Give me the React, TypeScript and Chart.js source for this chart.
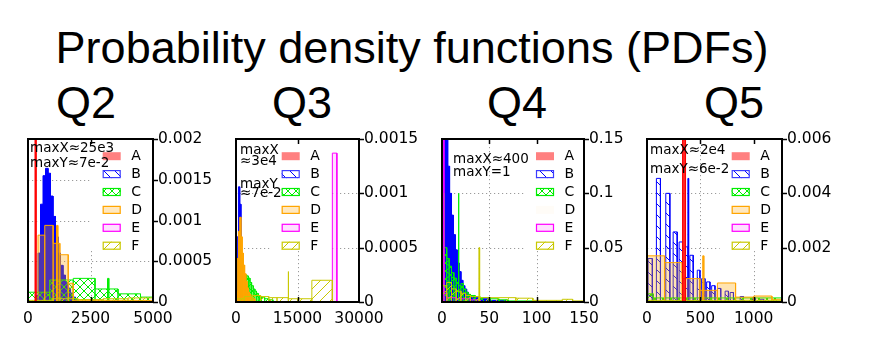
import React, { useEffect, useRef } from "react";
import { Chart, registerables } from "chart.js";

Chart.register(...registerables);

type Bar = [number, number, number]; // [bin start, bin end, density]

const seriesNames = ["A", "B", "C", "D", "E", "F"];

// ---------------- Q2 ----------------
const q2XTicks = [0, 2500, 5000];
const q2YTicks = [0, 0.0005, 0.001, 0.0015, 0.002];
const q2A: Bar[] = [[280, 320, 0.07]];
const q2B: Bar[] = [
  [300, 400, 0.00008], [400, 500, 0.0006], [500, 600, 0.0012], [600, 700, 0.00155],
  [700, 800, 0.00164], [800, 900, 0.00158], [900, 1000, 0.0013], [1000, 1100, 0.00105],
  [1100, 1200, 0.0008], [1200, 1300, 0.0006], [1300, 1400, 0.00045], [1400, 1500, 0.00033],
  [1500, 1600, 0.00024], [1600, 1700, 0.00017], [1700, 1800, 0.00011], [1800, 1900, 0.00006],
  [1900, 2000, 0.00003],
];
const q2C: Bar[] = [
  [0, 870, 0.00012], [870, 1810, 0.00027], [1810, 2680, 0.00029], [2680, 3180, 0.00016],
  [3180, 3230, 0.00029], [3230, 3600, 0.00016], [3600, 4500, 0.0001], [4500, 5000, 0.00006],
];
const q2D: Bar[] = [
  [400, 670, 0.00082], [670, 1005, 0.00094], [1005, 1140, 0.00072], [1140, 1190, 0.00094],
  [1190, 1273, 0.00072], [1273, 1610, 0.00058], [1610, 1810, 0.00023], [1810, 5000, 0.00002],
];
const q2E: Bar[] = [];
const q2F: Bar[] = [
  [0, 1000, 0.00002], [1000, 2000, 0.00004], [2000, 3000, 0.00003], [3000, 4000, 0.00004],
  [4000, 5000, 0.00005],
];

// ---------------- Q3 ----------------
const q3XTicks = [0, 15000, 30000];
const q3YTicks = [0, 0.0005, 0.001, 0.0015];
const q3A: Bar[] = [[0, 180, 0.07]];
const q3B: Bar[] = [
  [300, 600, 0.0006], [600, 900, 0.00106], [900, 1200, 0.0009], [1200, 1500, 0.0004],
  [1500, 1800, 0.00012],
];
const q3C: Bar[] = [
  [1400, 1800, 0.00012], [1800, 2200, 0.0002], [2200, 2600, 0.00025], [2600, 3000, 0.00024],
  [3000, 3400, 0.00022], [3400, 3800, 0.00018], [3800, 4200, 0.00015], [4200, 4600, 0.00012],
  [4600, 5000, 0.0001], [5000, 5400, 0.00008], [5400, 5800, 0.00006], [5800, 6200, 0.00005],
  [6200, 7000, 0.00004], [7000, 8000, 0.00003], [8000, 9000, 0.00002],
];
const q3D: Bar[] = [
  [0, 300, 0.0001], [300, 600, 0.0004], [600, 900, 0.00065], [900, 1200, 0.00078],
  [1200, 1500, 0.0006], [1500, 1800, 0.00045], [1800, 2100, 0.00034], [2100, 2400, 0.00026],
  [2400, 2700, 0.00019], [2700, 3000, 0.00013], [3000, 3300, 0.00009], [3300, 3600, 0.00007],
  [3600, 4000, 0.00005], [4000, 4600, 0.00003],
];
const q3E: Bar[] = [[23500, 24600, 0.00137]];
const q3F: Bar[] = [
  [0, 2000, 0.00003], [2000, 4000, 0.00005], [4000, 6000, 0.00006], [6000, 8000, 0.00005],
  [8000, 10000, 0.00004], [10000, 12700, 0.00004], [12700, 12850, 0.00028], [12850, 15000, 0.00003],
  [15000, 18500, 0.00003], [18500, 23500, 0.0002],
];

// ---------------- Q4 ----------------
const q4XTicks = [0, 50, 100, 150];
const q4YTicks = [0, 0.05, 0.1, 0.15];
const q4A: Bar[] = [];
const q4B: Bar[] = [
  [0, 2, 0.2], [2, 4, 0.2], [4, 6, 0.15], [6, 8, 0.125], [8, 10, 0.1], [10, 12, 0.08],
  [12, 14, 0.062], [14, 16, 0.048], [16, 18, 0.036], [18, 20, 0.028], [20, 22, 0.02],
  [22, 24, 0.015], [24, 26, 0.012], [26, 28, 0.009], [28, 30, 0.007], [30, 34, 0.005],
  [34, 40, 0.004], [40, 50, 0.003], [50, 70, 0.0015],
];
const q4C: Bar[] = [
  [0, 2.5, 0.1], [2.5, 5, 0.05], [5, 7.5, 0.04], [7.5, 10, 0.033], [10, 12.5, 0.027],
  [12.5, 15, 0.022], [15, 17.3, 0.018], [17.3, 17.9, 0.1], [17.9, 20, 0.015], [20, 22.5, 0.017],
  [22.5, 25, 0.012], [25, 27.5, 0.009], [27.5, 30, 0.007], [30, 35, 0.006], [35, 40, 0.005],
  [40, 50, 0.004], [50, 60, 0.003], [60, 70, 0.002], [70, 100, 0.001],
];
const q4D: Bar[] = [];
const q4E: Bar[] = [[0, 2, 1], [2, 5, 0.008], [5, 15, 0.004], [15, 30, 0.003], [30, 40, 0.002]];
const q4F: Bar[] = [
  [0, 5, 0.015], [5, 10, 0.018], [10, 15, 0.012], [15, 20, 0.01], [20, 25, 0.008],
  [25, 30, 0.006], [30, 39, 0.005], [39, 39.7, 0.05], [39.7, 50, 0.004], [50, 78, 0.004],
  [78, 96, 0.0035], [96, 127, 0.0015], [127, 138, 0.0025], [138, 150, 0.001],
];

// ---------------- Q5 ----------------
const q5XTicks = [0, 500, 1000];
const q5YTicks = [0, 0.002, 0.004, 0.006];
const q5A: Bar[] = [[333, 361, 0.06]];
const q5B: Bar[] = [
  [10, 50, 0.0016], [88, 126, 0.00455], [176, 214, 0.004], [245, 283, 0.00258],
  [301, 333, 0.00221], [361, 383, 0.00203], [383, 390, 0.00455], [402, 433, 0.00172],
  [471, 496, 0.00117], [512, 543, 0.00086], [559, 590, 0.00074], [606, 637, 0.0006],
  [660, 691, 0.0005], [732, 763, 0.0004], [779, 810, 0.00035], [873, 904, 0.0002],
  [983, 1014, 0.00015], [1061, 1093, 0.0001],
];
const q5C: Bar[] = [[0, 60, 0.0003], [60, 1265, 0.00015]];
const q5D: Bar[] = [
  [0, 165, 0.0017], [165, 330, 0.00145], [330, 496, 0.00086], [496, 522, 0.00043],
  [522, 532, 0.0017], [532, 660, 0.00043], [660, 830, 0.0007], [830, 1000, 0.00018],
  [1000, 1170, 0.00022], [1170, 1265, 0.0001],
];
const q5E: Bar[] = [];
const q5F: Bar[] = [[0, 1265, 0.00006]];

// ---------------- layout / style config ----------------
type Note = { text: string; dx: number; dy: number };
interface PanelCfg {
  key: string;
  title: string;
  titleX: number;
  L: number; R: number; T: number; B: number;
  xMax: number; yMax: number;
  xTicks: number[]; yTicks: number[];
  series: Bar[][];
  notes: Note[];
  legendDx: number;
  bFill: "solid" | "hatch";
  dFill: "light" | "solid";
  dSwatchFaint: boolean;
}

const PANELS: PanelCfg[] = [
  {
    key: "q2", title: "Q2", titleX: 86, L: 28, R: 153, T: 139, B: 302,
    xMax: 5000, yMax: 0.002, xTicks: q2XTicks, yTicks: q2YTicks,
    series: [q2A, q2B, q2C, q2D, q2E, q2F],
    notes: [{ text: "maxX≈25e3", dx: 2, dy: 9.3 }, { text: "maxY≈7e-2", dx: 2, dy: 24.3 }],
    legendDx: 50.3, bFill: "solid", dFill: "light", dSwatchFaint: false,
  },
  {
    key: "q3", title: "Q3", titleX: 302, L: 236, R: 359, T: 139, B: 302,
    xMax: 30000, yMax: 0.0015, xTicks: q3XTicks, yTicks: q3YTicks,
    series: [q3A, q3B, q3C, q3D, q3E, q3F],
    notes: [
      { text: "maxX", dx: 4, dy: 11 }, { text: "≈3e4", dx: 4, dy: 22 },
      { text: "maxY", dx: 4, dy: 45.3 }, { text: "≈7e-2", dx: 4, dy: 54.3 },
    ],
    legendDx: 77.3, bFill: "solid", dFill: "solid", dSwatchFaint: false,
  },
  {
    key: "q4", title: "Q4", titleX: 517, L: 442, R: 584, T: 139, B: 302,
    xMax: 150, yMax: 0.15, xTicks: q4XTicks, yTicks: q4YTicks,
    series: [q4A, q4B, q4C, q4D, q4E, q4F],
    notes: [{ text: "maxX≈400", dx: 11, dy: 20.3 }, { text: "maxY=1", dx: 11, dy: 33.7 }],
    legendDx: 48, bFill: "solid", dFill: "light", dSwatchFaint: true,
  },
  {
    key: "q5", title: "Q5", titleX: 734, L: 647, R: 782, T: 139, B: 302,
    xMax: 1265, yMax: 0.006, xTicks: q5XTicks, yTicks: q5YTicks,
    series: [q5A, q5B, q5C, q5D, q5E, q5F],
    notes: [{ text: "maxX≈2e4", dx: 3, dy: 11.7 }, { text: "maxY≈6e-2", dx: 3, dy: 30 }],
    legendDx: 50.3, bFill: "hatch", dFill: "light", dSwatchFaint: false,
  },
];

const PAD_L = 12;
const PAD_T = 12;
const Y_AXIS_W = 65;
const X_AXIS_H = 35;
const FONT = "DejaVu Sans";

const COL = {
  A: "#ff0000",
  B: "#0000ff",
  C: "#00ee00",
  D: "#ffa500",
  E: "#ff00ff",
  F: "#c8c800",
};

function makePattern(color: string, kind: "back" | "fwd" | "cross", size: number): CanvasPattern | string {
  const c = document.createElement("canvas");
  c.width = size;
  c.height = size;
  const g = c.getContext("2d");
  if (!g) return color;
  g.strokeStyle = color;
  g.lineWidth = 1;
  g.beginPath();
  if (kind === "back" || kind === "cross") {
    g.moveTo(-1, -1); g.lineTo(size + 1, size + 1);
    g.moveTo(-1, size - 1); g.lineTo(1, size + 1);
    g.moveTo(size - 1, -1); g.lineTo(size + 1, 1);
  }
  if (kind === "fwd" || kind === "cross") {
    g.moveTo(-1, size + 1); g.lineTo(size + 1, -1);
    g.moveTo(-1, 1); g.lineTo(1, -1);
    g.moveTo(size - 1, size + 1); g.lineTo(size + 1, size - 1);
  }
  g.stroke();
  return g.createPattern(c, "repeat") ?? color;
}

function barsToPoints(bars: Bar[]) {
  const pts: { x: number; y: number }[] = [];
  for (const [l, r, h] of bars) {
    pts.push({ x: l, y: 0 }, { x: l, y: h }, { x: r, y: h }, { x: r, y: 0 });
  }
  return pts;
}

type Styles = { border: string; fill: string | CanvasPattern; swatch: string | CanvasPattern; swatchBorder: string | null }[];

function buildStyles(p: PanelCfg): Styles {
  const crossC = makePattern(COL.C, "cross", 8);
  const backB = makePattern(COL.B, "back", 11);
  const fwdF = makePattern(COL.F, "fwd", 10);
  return [
    { border: COL.A, fill: "rgba(255,0,0,0.85)", swatch: "#ff8080", swatchBorder: null },
    { border: COL.B, fill: p.bFill === "solid" ? COL.B : backB, swatch: backB, swatchBorder: "#3c3cff" },
    { border: COL.C, fill: crossC, swatch: crossC, swatchBorder: COL.C },
    {
      border: COL.D,
      fill: p.dFill === "solid" ? "rgba(255,165,0,0.95)" : "rgba(255,165,0,0.3)",
      swatch: p.dSwatchFaint ? "rgba(255,200,120,0.06)" : "rgba(255,165,0,0.25)",
      swatchBorder: p.dSwatchFaint ? null : COL.D,
    },
    { border: COL.E, fill: "rgba(255,0,255,0.12)", swatch: "rgba(255,0,255,0.12)", swatchBorder: COL.E },
    { border: COL.F, fill: fwdF, swatch: fwdF, swatchBorder: COL.F },
  ];
}

function makeDecor(p: PanelCfg, styles: Styles) {
  const itemY = (top: number, i: number) => top + 17.2 + i * 17.9;
  return {
    id: "decor_" + p.key,
    beforeDatasetsDraw(chart: any) {
      const { ctx, chartArea: ca, scales } = chart;
      ctx.save();
      ctx.strokeStyle = "#9a9a9a";
      ctx.lineWidth = 1;
      ctx.setLineDash([1.2, 2.8]);
      for (const v of p.xTicks) {
        if (v <= 0 || v >= p.xMax) continue;
        const x = Math.round(scales.x.getPixelForValue(v)) + 0.5;
        ctx.beginPath(); ctx.moveTo(x, ca.top); ctx.lineTo(x, ca.bottom); ctx.stroke();
      }
      for (const v of p.yTicks) {
        if (v <= 0 || v >= p.yMax) continue;
        const y = Math.round(scales.y.getPixelForValue(v)) + 0.5;
        ctx.beginPath(); ctx.moveTo(ca.left, y); ctx.lineTo(ca.right, y); ctx.stroke();
      }
      ctx.setLineDash([]);
      const swL = ca.right - p.legendDx;
      const labX = swL + 18 + 10.5;
      const left = swL - 12;
      const right = Math.min(ca.right, labX + 20);
      ctx.fillStyle = "#ffffff";
      ctx.fillRect(left, ca.top, right - left, itemY(ca.top, 5) + 4 - ca.top);
      ctx.restore();
    },
    afterDatasetsDraw(chart: any) {
      const { ctx, chartArea: ca, scales } = chart;
      ctx.save();
      const swL = ca.right - p.legendDx;
      const labX = swL + 18 + 10.5;
      ctx.font = `14px "${FONT}"`;
      ctx.textBaseline = "middle";
      ctx.textAlign = "left";
      seriesNames.forEach((name, i) => {
        const cy = itemY(ca.top, i);
        const st = styles[i];
        ctx.fillStyle = "#ffffff";
        ctx.fillRect(swL, cy - 4, 18, 8);
        ctx.fillStyle = st.swatch;
        ctx.fillRect(swL, cy - 4, 18, 8);
        if (st.swatchBorder) {
          ctx.strokeStyle = st.swatchBorder;
          ctx.lineWidth = 1.2;
          ctx.strokeRect(swL + 0.5, cy - 3.5, 17, 7);
        }
        ctx.fillStyle = "#000";
        ctx.fillText(name, labX, cy + 0.5);
      });
      // notes
      ctx.font = `13.5px "${FONT}"`;
      ctx.fillStyle = "#000";
      for (const n of p.notes) {
        ctx.fillText(n.text, ca.left + n.dx, ca.top + n.dy);
      }
      // frame
      ctx.strokeStyle = "#000";
      ctx.lineWidth = 2;
      ctx.strokeRect(ca.left, ca.top, ca.right - ca.left, ca.bottom - ca.top);
      // ticks
      ctx.lineWidth = 1.5;
      for (const v of p.yTicks) {
        const y = Math.round(scales.y.getPixelForValue(v)) + 0.5;
        ctx.beginPath(); ctx.moveTo(ca.right, y); ctx.lineTo(ca.right + 5, y); ctx.stroke();
      }
      for (const v of p.xTicks) {
        if (v <= 0 || v >= p.xMax) continue;
        const x = Math.round(scales.x.getPixelForValue(v)) + 0.5;
        ctx.beginPath(); ctx.moveTo(x, ca.top); ctx.lineTo(x, ca.top + 5); ctx.stroke();
        ctx.beginPath(); ctx.moveTo(x, ca.bottom); ctx.lineTo(x, ca.bottom - 5); ctx.stroke();
      }
      ctx.restore();
    },
  };
}

const ORDERS = [0, 5, 4, 3, 2, 1];

function Panel({ p }: { p: PanelCfg }) {
  const ref = useRef<HTMLCanvasElement>(null);
  const w = p.R - p.L + PAD_L + Y_AXIS_W;
  const h = p.B - p.T + PAD_T + X_AXIS_H;
  useEffect(() => {
    if (!ref.current) return;
    const styles = buildStyles(p);
    const datasets = p.series.map((bars, i) => ({
      label: seriesNames[i],
      data: barsToPoints(bars),
      borderColor: styles[i].border,
      backgroundColor: styles[i].fill,
      borderWidth: 1,
      fill: "origin",
      pointRadius: 0,
      tension: 0,
      order: ORDERS[i],
      clip: 0,
    }));
    const tickFont = { family: FONT, size: 15.5 };
    const chart = new Chart(ref.current, {
      type: "line",
      data: { datasets } as any,
      options: {
        responsive: false,
        animation: false,
        devicePixelRatio: 1,
        events: [],
        layout: { padding: { left: PAD_L, top: PAD_T, right: 0, bottom: 0 } },
        plugins: {
          legend: { display: false },
          tooltip: { enabled: false },
          title: { display: false },
        },
        scales: {
          x: {
            type: "linear",
            min: 0,
            max: p.xMax,
            afterBuildTicks: (s: any) => { s.ticks = p.xTicks.map((v) => ({ value: v })); },
            afterFit: (s: any) => {
              s.height = X_AXIS_H;
              s.paddingLeft = 0; s.paddingRight = 0; s.paddingTop = 0; s.paddingBottom = 0;
            },
            grid: { display: false, drawTicks: false },
            border: { display: false },
            ticks: {
              font: tickFont, color: "#000", padding: 8, maxRotation: 0, autoSkip: false,
              includeBounds: false,
              callback: (v: any) => String(v),
            },
          },
          y: {
            type: "linear",
            position: "right",
            min: 0,
            max: p.yMax,
            afterBuildTicks: (s: any) => { s.ticks = p.yTicks.map((v) => ({ value: v })); },
            afterFit: (s: any) => {
              s.width = Y_AXIS_W;
              s.paddingLeft = 0; s.paddingRight = 0; s.paddingTop = 0; s.paddingBottom = 0;
            },
            grid: { display: false, drawTicks: false },
            border: { display: false },
            ticks: {
              font: tickFont, color: "#000", padding: 5, autoSkip: false,
              includeBounds: false,
              callback: (v: any) => String(v),
            },
          },
        },
      } as any,
      plugins: [makeDecor(p, styles)],
    });
    return () => chart.destroy();
  }, [p]);
  return (
    <canvas
      ref={ref}
      width={w}
      height={h}
      style={{ position: "absolute", left: p.L - PAD_L, top: p.T - PAD_T, width: w, height: h }}
    />
  );
}

export default function App() {
  const headFont = '"Liberation Sans", Arial, Helvetica, sans-serif';
  return (
    <div
      style={{
        position: "absolute", left: 0, top: 0, width: 871, height: 339,
        background: "#fff", overflow: "hidden",
      }}
    >
      <div
        style={{
          position: "absolute", left: 412, top: 25, transform: "translateX(-50%)",
          fontFamily: headFont, fontSize: 45, lineHeight: "45px", whiteSpace: "nowrap", color: "#000",
        }}
      >
        Probability density functions (PDFs)
      </div>
      {PANELS.map((p) => (
        <React.Fragment key={p.key}>
          <div
            style={{
              position: "absolute", left: p.titleX, top: 80, transform: "translateX(-50%)",
              fontFamily: headFont, fontSize: 45, lineHeight: "45px", whiteSpace: "nowrap", color: "#000",
            }}
          >
            {p.title}
          </div>
          <Panel p={p} />
        </React.Fragment>
      ))}
    </div>
  );
}
